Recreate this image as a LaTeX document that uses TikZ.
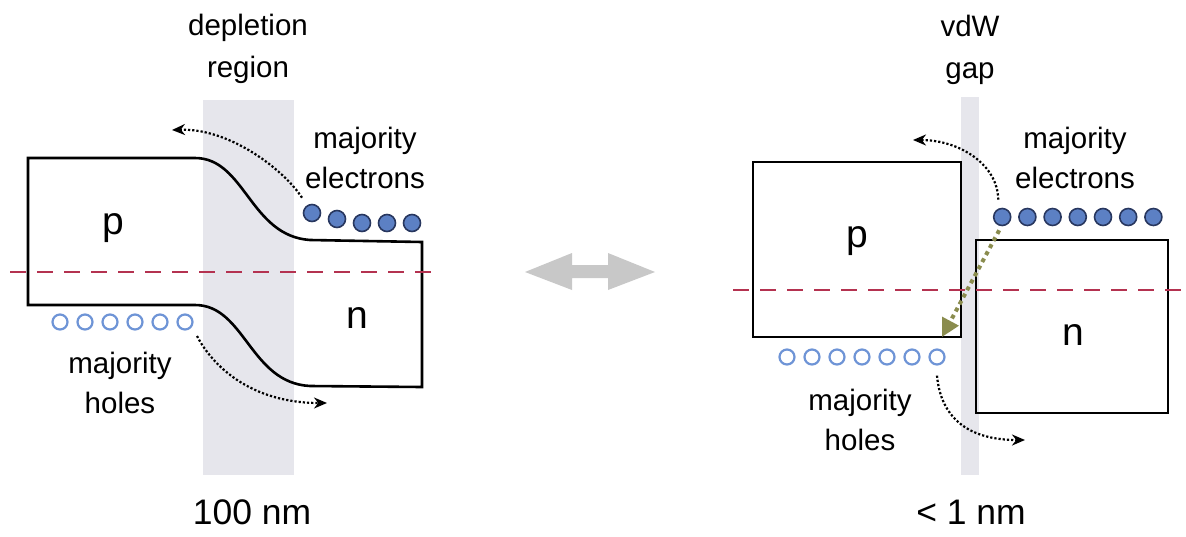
\documentclass[tikz,border=0pt]{standalone}
\usepackage{fontspec}
\setmainfont{Liberation Sans}
\usetikzlibrary{arrows.meta}
\definecolor{bandgray}{RGB}{230,230,236}
\definecolor{fermired}{RGB}{180,50,80}
\definecolor{elecblue}{RGB}{92,128,196}
\definecolor{elecedge}{RGB}{40,55,95}
\definecolor{holeblue}{RGB}{110,148,214}
\definecolor{tunnel}{RGB}{138,140,78}
\definecolor{swapgray}{RGB}{200,200,200}

\begin{document}
\begin{tikzpicture}[x=1pt,y=-1pt,
  lbl/.style={font=\fontsize{29.5}{40}\selectfont,align=center,inner sep=0pt},
  toplbl/.style={lbl,font=\fontsize{29.5}{42}\selectfont},
  typelbl/.style={lbl,font=\fontsize{39}{40}\selectfont},
  widthlbl/.style={lbl,font=\fontsize{35.5}{40}\selectfont},
  band/.style={draw=black,line width=2.6pt,line join=miter},
  fermi/.style={draw=fermired,line width=2.4pt,dash pattern=on 16pt off 11pt},
  elec/.style={circle,draw=elecedge,fill=elecblue,line width=1.6pt,minimum size=17pt,inner sep=0pt},
  hole/.style={circle,draw=holeblue,line width=2.2pt,minimum size=15pt,inner sep=0pt},
  hop/.style={line width=2.2pt,dotted,-{Stealth[length=13pt,width=11pt]}},
  tunnelarrow/.style={draw=tunnel,line width=4pt,dash pattern=on 4pt off 4pt,-{Triangle[length=18pt,width=18pt,fill=tunnel]}}]
\useasboundingbox (0,0) rectangle (1186,536);

% homojunction
\fill[bandgray] (203,100) rectangle (294,475);
\draw[band] (28,158) -- (195,158) .. controls (245,158) and (250,236) .. (310,240) -- (422,242)
   -- (422,387) -- (310,386) .. controls (250,383) and (245,305) .. (195,305) -- (28,305) -- cycle;
\draw[fermi] (10,272) -- (438,272);
\foreach \i/\x/\y in {1/312/213,2/337/219,3/362/223,4/387/223,5/412/223} {
   \node[elec] (le\i) at (\x,\y) {};
}
\foreach \i in {1,...,6} {
   \node[hole] (lh\i) at ({35+25*\i},322) {};
}
\node[toplbl] (depl) at (248,49) {depletion\\region};
\node[lbl] (lelab) at (365,158) {majority\\electrons};
\node[lbl] (lhlab) at (120,383) {majority\\holes};
\node[typelbl] (lp) at (113,228) {p};
\node[typelbl] (ln) at (357,318) {n};
\node[widthlbl] (lwidth) at (252,512) {100 nm};
\coordinate (lt) at (172,130);
\coordinate (lb) at (327,403);
\draw[hop] ([xshift=-10pt,yshift=6pt]le1.north) .. controls (284,170) and (230,128) .. (lt);
\draw[hop] ([xshift=12pt,yshift=-14pt]lh6.center) .. controls (212,365) and (250,403) .. (lb);

% swap arrow
\fill[swapgray] (525,272) -- (572,253) -- (572,265) -- (608,265) -- (608,253) -- (655,272)
   -- (608,290) -- (608,278) -- (572,278) -- (572,290) -- cycle;

% vdW heterojunction
\fill[bandgray] (961,97) rectangle (979,475);
\draw[band] (753,162) rectangle (961,337);
\draw[band] (976,240) rectangle (1168,413);
\draw[fermi] (733,290) -- (1186,290);
\foreach \i in {1,...,7} {
   \node[elec] (re\i) at ({977+25.2*\i},217) {};
   \node[hole] (rh\i) at ({762+25*\i},357) {};
}
\node[toplbl] (gap) at (970,50) {vdW\\gap};
\node[lbl] (relab) at (1075,158) {majority\\electrons};
\node[lbl] (rhlab) at (860,420) {majority\\holes};
\node[typelbl] (rp) at (857,241) {p};
\node[typelbl] (rn) at (1073,335) {n};
\node[widthlbl] (rwidth) at (971,512) {< 1 nm};
\coordinate (rt) at (913,140);
\coordinate (rb) at (1025,440);
\coordinate (rtip) at (942,337);
\draw[hop] ([xshift=-4pt,yshift=8pt]re1.north) .. controls (998,165) and (960,140) .. (rt);
\draw[hop] ([yshift=-10pt]rh7.south) .. controls (940,410) and (960,440) .. (rb);
\draw[tunnelarrow] ([xshift=-3pt,yshift=-4pt]re1.south) -- (rtip);
\end{tikzpicture}
\end{document}
